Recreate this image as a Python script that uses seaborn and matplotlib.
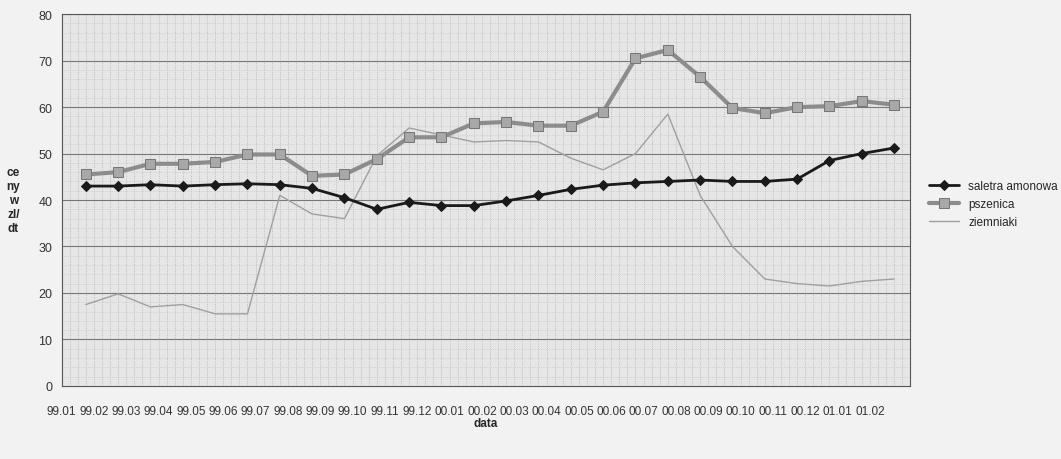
import numpy as np
import pandas as pd
import seaborn as sns
import matplotlib.pyplot as plt

months = ["99.01", "99.02", "99.03", "99.04", "99.05", "99.06", "99.07", "99.08", "99.09", "99.10",
          "99.11", "99.12", "00.01", "00.02", "00.03", "00.04", "00.05", "00.06", "00.07", "00.08",
          "00.09", "00.10", "00.11", "00.12", "01.01", "01.02"]
saletra = [43, 43, 43.3, 43, 43.3, 43.5, 43.3, 42.5, 40.5, 38, 39.5, 38.8, 38.8, 39.8, 41, 42.3,
           43.2, 43.7, 44, 44.3, 44, 44, 44.5, 48.5, 50, 51.2]
pszenica = [45.5, 46, 47.8, 47.8, 48.2, 49.8, 49.8, 45.2, 45.5, 48.8, 53.5, 53.5, 56.5, 56.8, 56, 56,
            59, 70.5, 72.3, 66.5, 59.8, 58.7, 60, 60.2, 61.3, 60.5]
ziemniaki = [17.5, 19.8, 17, 17.5, 15.5, 15.5, 41, 37, 36, 49.5, 55.5, 54, 52.5, 52.8, 52.5, 49,
             46.5, 50, 58.5, 41, 30, 23, 22, 21.5, 22.5, 23]

x = np.arange(len(months))
df = pd.DataFrame({"x": x, "saletra amonowa": saletra, "pszenica": pszenica, "ziemniaki": ziemniaki})

sns.set_style("white")
plt.rcParams['font.family'] = ['Liberation Sans', 'DejaVu Sans']

fig = plt.figure(figsize=(10.61, 4.6), dpi=100)
fig.patch.set_facecolor("#f2f2f2")
ax = fig.add_axes([0.058, 0.159, 0.8, 0.808])
ax.set_facecolor("#e6e6e6")

# grid
for v in np.arange(-0.5, len(months) - 0.4, 0.25):
    ax.axvline(v, color="#b0b0b0", lw=0.6, ls=":", zorder=0)
for h in np.arange(2, 80, 2):
    ax.axhline(h, color="#c0c0c0", lw=0.5, ls=":", zorder=0)
for h in range(10, 81, 10):
    ax.axhline(h, color="#777777", lw=0.8, zorder=1)

sns.lineplot(data=df, x="x", y="saletra amonowa", ax=ax, color="#1a1a1a", lw=2,
             marker="D", markersize=5, markeredgecolor="#1a1a1a", label="saletra amonowa", zorder=4)
sns.lineplot(data=df, x="x", y="pszenica", ax=ax, color="#8c8c8c", lw=3,
             marker="s", markersize=7, markerfacecolor="#a8a8a8", markeredgecolor="#777777",
             label="pszenica", zorder=3)
sns.lineplot(data=df, x="x", y="ziemniaki", ax=ax, color="#a0a0a0", lw=1,
             label="ziemniaki", zorder=2)

ax.set_xlim(-0.5, len(months) - 0.5)
ax.set_ylim(0, 80)
ax.set_yticks(range(0, 81, 10))
ax.set_xticks(x - 0.75)
ax.set_xticklabels(months, fontsize=8.5, color="#333333")
ax.tick_params(axis="x", length=0, pad=14)
ax.tick_params(axis="y", length=3, labelsize=9, colors="#333333")
for s in ax.spines.values():
    s.set_color("#555555")
    s.set_linewidth(0.8)

ax.set_xlabel("data", fontsize=8.5, fontweight="bold", labelpad=0)
ax.set_ylabel("ce\nny\nw\nzl/\ndt", fontsize=8.5, fontweight="bold", rotation=0,
              ha="center", va="center", labelpad=18)

ax.legend(loc="center left", bbox_to_anchor=(1.01, 0.49), frameon=False, fontsize=8.5,
          handlelength=2.5)

fig.savefig("out.png", dpi=100, facecolor=fig.get_facecolor())
